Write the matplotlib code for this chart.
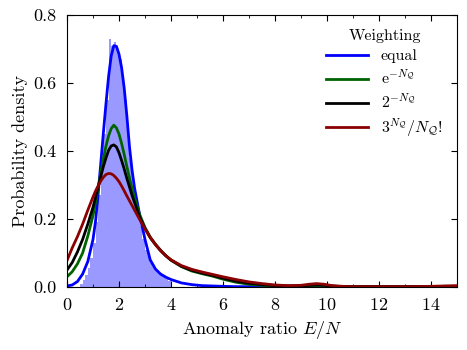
import matplotlib
matplotlib.use('Agg')
import matplotlib.pyplot as plt
from matplotlib.ticker import MultipleLocator, NullLocator

plt.rcParams['font.family'] = 'serif'
plt.rcParams['font.serif'] = ['cmr10']
plt.rcParams['mathtext.fontset'] = 'cm'
plt.rcParams['axes.formatter.use_mathtext'] = True
plt.rcParams['axes.unicode_minus'] = False

# histogram of the equal weighting (left bin edges, heights)
hist_left = [0.5, 0.6, 0.7, 0.8, 0.9, 1.0, 1.1, 1.2, 1.3, 1.4, 1.5, 1.6, 1.7, 1.8,
             1.9, 2.0, 2.1, 2.2, 2.3, 2.4, 2.5, 2.6, 2.7, 2.8, 2.9, 3.0, 3.1, 3.2,
             3.3, 3.4, 3.5, 3.6, 3.7, 3.8, 3.9]
hist_height = [0.01, 0.02, 0.035, 0.055, 0.085, 0.13, 0.19, 0.27, 0.36, 0.45, 0.55,
               0.73, 0.71, 0.72, 0.70, 0.67, 0.62, 0.55, 0.46, 0.38, 0.31, 0.26,
               0.22, 0.18, 0.14, 0.11, 0.09, 0.075, 0.06, 0.05, 0.042, 0.035,
               0.03, 0.024, 0.018]

# density curves
x = [0, 0.2, 0.4, 0.6, 0.8, 1.0, 1.1, 1.2, 1.3, 1.4, 1.5, 1.6, 1.7, 1.8, 1.9, 2.0,
     2.1, 2.2, 2.3, 2.4, 2.5, 2.6, 2.8, 3.0, 3.2, 3.4, 3.6, 3.8, 4.0, 4.4, 4.8, 5.2,
     5.6, 6.0, 6.5, 7.0, 7.5, 8.0, 8.5, 9.0, 9.3, 9.6, 9.9, 10.2, 10.6, 11, 12, 13,
     14, 14.5, 15]
y_equal = [0.003, 0.006, 0.016, 0.038, 0.075, 0.14, 0.195, 0.275, 0.365, 0.455,
           0.54, 0.62, 0.68, 0.71, 0.708, 0.685, 0.645, 0.585, 0.505, 0.415, 0.345,
           0.29, 0.21, 0.14, 0.08, 0.053, 0.038, 0.029, 0.022, 0.012, 0.007, 0.004,
           0.003, 0.002, 0.001, 0.001, 0.001, 0.001, 0.0, 0.0, 0.0, 0.0, 0.0, 0.0,
           0.0, 0.0, 0.0, 0.0, 0.0, 0.0, 0.0]
y_exp = [0.03, 0.045, 0.068, 0.10, 0.15, 0.21, 0.25, 0.293, 0.337, 0.378, 0.415,
         0.445, 0.466, 0.476, 0.468, 0.45, 0.422, 0.39, 0.355, 0.322, 0.29, 0.262,
         0.212, 0.175, 0.147, 0.126, 0.108, 0.092, 0.079, 0.06, 0.047, 0.039, 0.032,
         0.023, 0.014, 0.008, 0.005, 0.003, 0.002, 0.002, 0.003, 0.004, 0.003,
         0.002, 0.001, 0.001, 0.0, 0.0, 0.001, 0.001, 0.001]
y_two = [0.05, 0.072, 0.103, 0.14, 0.185, 0.235, 0.265, 0.295, 0.325, 0.355, 0.38,
         0.402, 0.415, 0.418, 0.412, 0.395, 0.372, 0.347, 0.32, 0.295, 0.27, 0.248,
         0.205, 0.172, 0.145, 0.125, 0.107, 0.092, 0.079, 0.061, 0.049, 0.041,
         0.034, 0.026, 0.017, 0.011, 0.007, 0.004, 0.003, 0.003, 0.005, 0.006,
         0.005, 0.003, 0.001, 0.001, 0.001, 0.001, 0.001, 0.002, 0.002]
y_pois = [0.078, 0.115, 0.148, 0.185, 0.226, 0.265, 0.283, 0.298, 0.312, 0.323,
          0.331, 0.334, 0.333, 0.328, 0.32, 0.31, 0.297, 0.283, 0.268, 0.254, 0.24,
          0.226, 0.198, 0.171, 0.146, 0.125, 0.107, 0.092, 0.08, 0.063, 0.052,
          0.044, 0.037, 0.03, 0.022, 0.015, 0.01, 0.006, 0.004, 0.005, 0.008, 0.01,
          0.008, 0.004, 0.002, 0.001, 0.001, 0.001, 0.002, 0.003, 0.004]

fig = plt.figure(figsize=(4.67, 3.5), dpi=100)
ax = fig.add_axes([0.1435, 0.18, 0.835, 0.777])

ax.bar(hist_left, hist_height, width=0.1, align='edge', color='blue', alpha=0.4,
       linewidth=0)
ax.plot(x, y_equal, color='blue', lw=2, label='equal')
ax.plot(x, y_exp, color='darkgreen', lw=2, label=r'$\mathrm{e}^{-N_\mathcal{Q}}$')
ax.plot(x, y_two, color='black', lw=2, label=r'$2^{-N_\mathcal{Q}}$')
ax.plot(x, y_pois, color='darkred', lw=2, label=r'$3^{N_\mathcal{Q}}/N_\mathcal{Q}!$')

ax.set_xlim(0, 15)
ax.set_ylim(0, 0.8)
ax.xaxis.set_major_locator(MultipleLocator(2))
ax.xaxis.set_minor_locator(MultipleLocator(1))
ax.yaxis.set_major_locator(MultipleLocator(0.2))
ax.yaxis.set_minor_locator(NullLocator())
ax.yaxis.set_major_formatter(plt.FuncFormatter(lambda v, _: f'{v:.1f}'))
ax.tick_params(which='both', direction='in', top=True, right=True, labelsize=13,
               pad=7.5)
ax.tick_params(which='major', length=4)
ax.tick_params(which='minor', length=2.5)

ax.set_xlabel(r'Anomaly ratio $E/N$', fontsize=13)
ax.set_ylabel('Probability density', fontsize=13)

leg = ax.legend(title='Weighting', frameon=False, loc='upper right', fontsize=11.5,
                title_fontsize=11.5, handlelength=2.6, labelspacing=0.35)

plt.savefig('out.png', dpi=100)
